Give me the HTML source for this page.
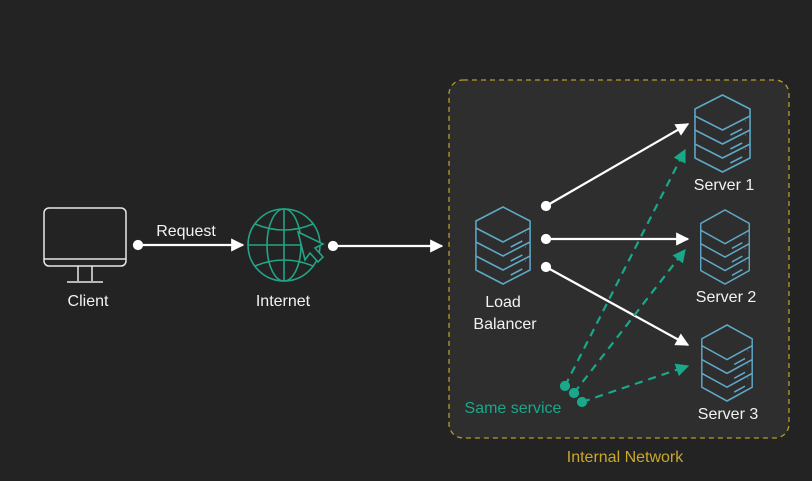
<!DOCTYPE html>
<html><head><style>
html,body{margin:0;padding:0;background:#232323;}
svg{display:block;}
text{font-family:"Liberation Sans",sans-serif;font-size:16px;}
</style></head><body>
<svg width="812" height="481" viewBox="0 0 812 481" xmlns="http://www.w3.org/2000/svg">
<defs>
<marker id="aw" viewBox="0 0 10 10" refX="9" refY="5" markerWidth="6.5" markerHeight="6" orient="auto"><path d="M0,0L10,5L0,10z" fill="#fff"/></marker>
<marker id="ag" viewBox="0 0 10 10" refX="9" refY="5" markerWidth="6.5" markerHeight="6" orient="auto"><path d="M0,0L10,5L0,10z" fill="#1aa88a"/></marker>
<symbol id="srv" viewBox="-30 -1 60 79" preserveAspectRatio="none">
<g fill="none" stroke="#5fa8c8" stroke-width="1.6" stroke-linejoin="round">
<path d="M-28,14 L0,0 L28,14 L28,21 L0,35 L-28,21 Z"/>
<path d="M-28,21 L-28,35 L0,49 L28,35 L28,21"/>
<path d="M-28,35 L-28,49 L0,63 L28,49 L28,35"/>
<path d="M-28,49 L-28,63 L0,77 L28,63 L28,49"/>
<path d="M8,40 l12,-6 M8,54 l12,-6 M8,68 l12,-6 M23,26 l0.5,0 M23,40 l0.5,0 M23,54 l0.5,0"/>
</g>
</symbol>
</defs>
<rect x="449" y="80" width="340" height="358" rx="14" fill="#2e2e2e" stroke="#b59b28" stroke-width="1.3" stroke-dasharray="5,4"/>
<g fill="none" stroke="#e8e8e8" stroke-width="1.5">
<rect x="44" y="208" width="82" height="58" rx="5"/>
<line x1="44" y1="259" x2="126" y2="259"/>
<path d="M78,266 L78,281 M92,266 L92,281 M67,282 L103,282"/>
</g>
<g fill="none" stroke="#23a486" stroke-width="1.6">
<circle cx="284" cy="245" r="36"/>
<ellipse cx="284" cy="245" rx="17" ry="36"/>
<line x1="284" y1="209" x2="284" y2="281"/>
<line x1="248" y1="245" x2="320" y2="245"/>
<path d="M255,224 Q284,236 313,224 M255,266 Q284,254 313,266"/>
<path d="M298,232 L323,244 L315,248 L323,257 L318,262 L310,253 L305,260 Z" fill="#232323"/>
</g>
<g stroke="#fff" stroke-width="2.2" fill="#fff">
<circle cx="138" cy="245" r="4"/><line x1="138" y1="245" x2="243" y2="245" marker-end="url(#aw)"/>
<circle cx="333" cy="246" r="4"/><line x1="333" y1="246" x2="442" y2="246" marker-end="url(#aw)"/>
<circle cx="546" cy="206" r="4"/><line x1="546" y1="206" x2="688" y2="124" marker-end="url(#aw)"/>
<circle cx="546" cy="239" r="4"/><line x1="546" y1="239" x2="688" y2="239" marker-end="url(#aw)"/>
<circle cx="546" cy="267" r="4"/><line x1="546" y1="267" x2="688" y2="345" marker-end="url(#aw)"/>
</g>
<g stroke="#1aa88a" stroke-width="2.2" fill="#1aa88a" stroke-dasharray="8,6">
<circle cx="565" cy="386" r="4" stroke-dasharray="none"/><line x1="565" y1="386" x2="685" y2="150" marker-end="url(#ag)"/>
<circle cx="574" cy="393" r="4" stroke-dasharray="none"/><line x1="574" y1="393" x2="685" y2="250" marker-end="url(#ag)"/>
<circle cx="582" cy="402" r="4" stroke-dasharray="none"/><line x1="582" y1="402" x2="688" y2="366" marker-end="url(#ag)"/>
</g>
<use href="#srv" x="474" y="206" width="58" height="79"/>
<use href="#srv" x="693" y="94" width="59" height="79"/>
<use href="#srv" x="699" y="209" width="52" height="76"/>
<use href="#srv" x="700" y="324" width="54" height="78"/>
<g fill="#f2f2f2" text-anchor="middle">
<text x="88" y="306">Client</text>
<text x="186" y="236">Request</text>
<text x="283" y="306">Internet</text>
<text x="503" y="307">Load</text>
<text x="505" y="329">Balancer</text>
<text x="724" y="190">Server 1</text>
<text x="726" y="302">Server 2</text>
<text x="728" y="419">Server 3</text>
</g>
<text x="513" y="413" text-anchor="middle" fill="#1aa88a">Same service</text>
<text x="625" y="462" text-anchor="middle" fill="#c9a82a">Internal Network</text>
</svg>
</body></html>
